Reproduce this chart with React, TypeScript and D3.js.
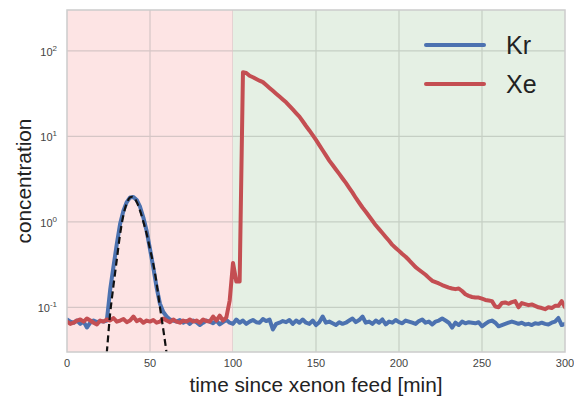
import * as d3 from 'd3';

// sampling step of both series, minutes
const STEP = 2;

const krValues: number[] = [
  0.072, 0.068, 0.066, 0.07, 0.064, 0.068, 0.058, 0.066, 0.07, 0.067, 0.069, 0.068,
  0.07, 0.16, 0.3, 0.55, 0.95, 1.35, 1.7, 1.93, 1.95, 1.8, 1.5, 1.12, 0.78, 0.48, 0.29, 0.17, 0.11, 0.088, 0.078,
  0.072, 0.07, 0.068, 0.071, 0.066, 0.069, 0.064, 0.07, 0.067, 0.062, 0.066, 0.07, 0.068, 0.065, 0.07, 0.063, 0.067, 0.071, 0.066, 0.064,
  0.072, 0.066, 0.07, 0.064, 0.068, 0.071, 0.067, 0.066, 0.073, 0.069, 0.072, 0.055, 0.064, 0.066, 0.069, 0.067, 0.071, 0.064, 0.07, 0.066,
  0.072, 0.066, 0.064, 0.07, 0.062, 0.067, 0.078, 0.066, 0.068, 0.065, 0.062, 0.067, 0.064, 0.066, 0.07, 0.074, 0.067, 0.071, 0.078, 0.066,
  0.068, 0.064, 0.07, 0.066, 0.072, 0.063, 0.068, 0.066, 0.071, 0.067, 0.065, 0.07, 0.068, 0.066, 0.064, 0.069, 0.072, 0.066, 0.068, 0.063,
  0.068, 0.07, 0.074, 0.07, 0.066, 0.058, 0.066, 0.062, 0.068, 0.065, 0.067, 0.066, 0.065, 0.067, 0.06, 0.064, 0.068, 0.07, 0.066, 0.06,
  0.062, 0.064, 0.066, 0.068, 0.066, 0.064, 0.066, 0.063, 0.064, 0.062, 0.065, 0.064, 0.066, 0.064, 0.063, 0.066, 0.068, 0.075, 0.062, 0.064
];

const xeValues: number[] = [
  0.068, 0.064, 0.066, 0.07, 0.072, 0.068, 0.074, 0.07, 0.066, 0.063, 0.07, 0.068,
  0.072, 0.07, 0.075, 0.068, 0.07, 0.073, 0.067, 0.07, 0.078, 0.069, 0.072, 0.066,
  0.07, 0.068, 0.071, 0.066, 0.068, 0.074, 0.07, 0.067, 0.072, 0.068, 0.066, 0.07,
  0.068, 0.072, 0.068, 0.07, 0.066, 0.072, 0.069, 0.068, 0.078, 0.07, 0.08, 0.07,
  0.076, 0.12, 0.33, 0.2, 0.2,
  56, 55, 51, 49, 46.8, 44.7, 43, 39.8, 36.8, 34,
  31.5, 29.2, 27, 25, 22.7, 20.6, 18.7, 17, 15, 13.2,
  11.7, 10.3, 9.06, 7.9, 6.87, 5.97, 5.2, 4.61, 4.09, 3.63,
  3.21, 2.85, 2.5, 2.19, 1.9, 1.67, 1.47, 1.31, 1.16, 1.03,
  0.91, 0.82, 0.74, 0.665, 0.6, 0.537, 0.495, 0.457, 0.42, 0.39,
  0.357, 0.325, 0.295, 0.275, 0.257, 0.24, 0.221, 0.204, 0.197, 0.19,
  0.182, 0.176, 0.17, 0.166, 0.163, 0.166, 0.155, 0.142, 0.136, 0.132,
  0.13, 0.13, 0.126, 0.122, 0.12, 0.118, 0.102, 0.1, 0.112, 0.114,
  0.11, 0.115, 0.118, 0.1, 0.112, 0.109, 0.106, 0.108, 0.104, 0.1,
  0.098, 0.095, 0.1, 0.098, 0.104, 0.104, 0.118, 0.1
];

// gaussian fit of the Kr peak
const fitTimes: number[] = [22, 24, 26, 28, 30, 32, 34, 36, 38, 40, 42, 44, 46, 48, 50, 52, 54, 56, 58, 60, 62];
const fitValues: number[] = [0.012, 0.03, 0.085, 0.18, 0.36, 0.72, 1.2, 1.65, 1.93, 1.95, 1.7, 1.35, 1.0, 0.72, 0.48, 0.32, 0.19, 0.1, 0.055, 0.029, 0.014];

const xTicks: number[] = [0, 50, 100, 150, 200, 250, 300];
const yExponents: number[] = [-1, 0, 1, 2];
const phases = [
  { from: 0, to: 100, fill: '#fde4e4', grid: '#d6c6c6' },
  { from: 100, to: 300, fill: '#e5f0e4', grid: '#c5cfc4' }
];
const legendItems = [
  { name: 'Kr', color: '#4c72b0' },
  { name: 'Xe', color: '#c44e52' }
];

const W = 574;
const H = 401;
const left = 67;
const right = 565;
const top = 10;
const bottom = 352;

export default function App() {
  const x = d3.scaleLinear().domain([0, 300]).range([left, right]);
  const y = d3.scaleLog().domain([0.03, 300]).range([bottom, top]);

  const line = d3
    .line<[number, number]>()
    .x((d) => x(d[0]))
    .y((d) => y(d[1]));
  const smooth = d3
    .line<[number, number]>()
    .x((d) => x(d[0]))
    .y((d) => y(d[1]))
    .curve(d3.curveCatmullRom);

  const kr: [number, number][] = krValues.map((v, i) => [i * STEP, v]);
  const xe: [number, number][] = xeValues.map((v, i) => [i * STEP, v]);
  const fit: [number, number][] = fitTimes.map((t, i) => [t, fitValues[i]]);

  const font = '"Liberation Sans", Arial, sans-serif';

  return (
    <div style={{ position: 'absolute', left: 0, top: 0 }}>
      <svg width={W} height={H} style={{ display: 'block', fontFamily: font }}>
        <defs>
          <clipPath id='plot'>
            <rect x={left} y={top} width={right - left} height={bottom - top} />
          </clipPath>
        </defs>
        <rect width={W} height={H} fill='white' />

        {phases.map((p) => (
          <g key={p.from}>
            <rect x={x(p.from)} y={top} width={x(p.to) - x(p.from)} height={bottom - top} fill={p.fill} />
            {xTicks
              .filter((t) => t > p.from && t <= p.to && t < 300)
              .map((t) => (
                <line key={t} x1={x(t)} x2={x(t)} y1={top} y2={bottom} stroke={p.grid} strokeWidth={1.2} />
              ))}
            {yExponents.map((e) => (
              <line
                key={e}
                x1={x(p.from)}
                x2={x(p.to)}
                y1={y(Math.pow(10, e))}
                y2={y(Math.pow(10, e))}
                stroke={p.grid}
                strokeWidth={1.2}
              />
            ))}
          </g>
        ))}

        <g clipPath='url(#plot)' fill='none' strokeLinejoin='round' strokeLinecap='round'>
          <path d={line(kr) ?? ''} stroke='#4c72b0' strokeWidth={4} />
          <path d={line(xe) ?? ''} stroke='#c44e52' strokeWidth={4} />
          <path d={smooth(fit) ?? ''} stroke='#111' strokeWidth={2.2} strokeDasharray='7,4' strokeLinecap='butt' />
        </g>

        <rect x={left} y={top} width={right - left} height={bottom - top} fill='none' stroke='#cccccc' strokeWidth={1.5} />

        {xTicks.map((t) => (
          <text key={t} x={x(t)} y={367} textAnchor='middle' fontSize={11} fill='#444'>
            {t}
          </text>
        ))}
        {yExponents.map((e) => (
          <text key={e} x={57} y={y(Math.pow(10, e)) + 5} textAnchor='end' fontSize={11} fill='#444'>
            10
            <tspan dy={-5} fontSize={8}>
              {e}
            </tspan>
          </text>
        ))}

        <text x={(left + right) / 2} y={392} textAnchor='middle' fontSize={20.8} fill='#222'>
          time since xenon feed [min]
        </text>
        <text
          transform={`translate(31,${(top + bottom) / 2}) rotate(-90)`}
          textAnchor='middle'
          fontSize={20.8}
          fill='#222'
        >
          concentration
        </text>

        {legendItems.map((item, i) => (
          <g key={item.name} transform={`translate(0,${45 + i * 39})`}>
            <line x1={426} x2={484} y1={0} y2={0} stroke={item.color} strokeWidth={4} strokeLinecap='round' />
            <text x={506} y={9} fontSize={25} fill='#222'>
              {item.name}
            </text>
          </g>
        ))}
      </svg>
    </div>
  );
}
